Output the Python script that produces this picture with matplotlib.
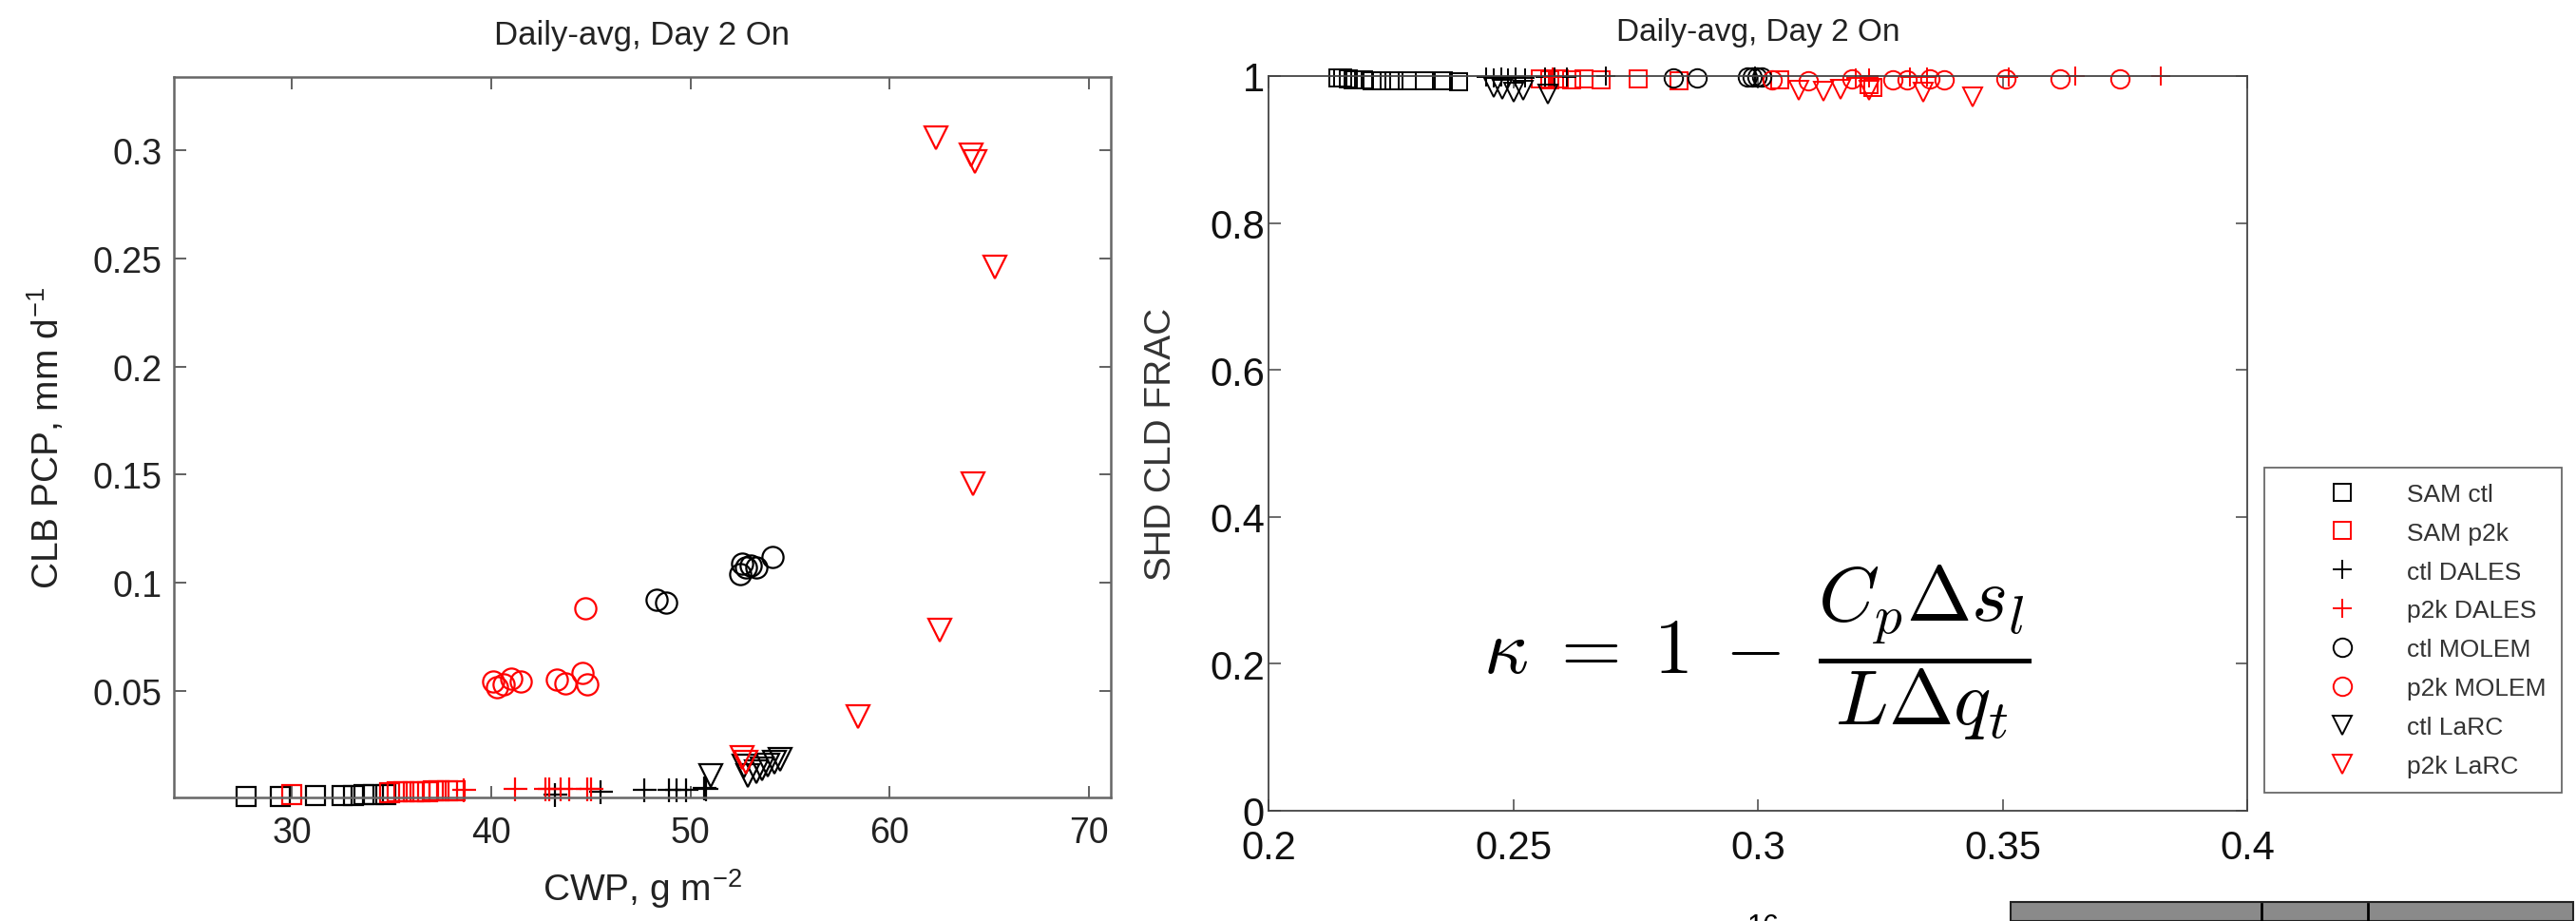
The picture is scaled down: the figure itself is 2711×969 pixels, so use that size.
import matplotlib
matplotlib.use("Agg")
import matplotlib.pyplot as plt
from matplotlib import font_manager
from matplotlib.patches import Rectangle

# ---- data: left panel (CWP vs cloud-base precip) ----
sam_ctl_cwp = [27.7, 29.4, 31.2, 32.5, 33.1, 33.6, 34.1, 34.7]
sam_ctl_pcp = [0.0012, 0.0013, 0.0015, 0.0016, 0.0017, 0.0018, 0.0019, 0.0020]
sam_p2k_cwp = [30.0, 34.9, 35.3, 35.6, 36.1, 36.4, 36.8, 37.1, 37.4, 37.8, 38.2]
sam_p2k_pcp = [0.0020, 0.0030, 0.0032, 0.0033, 0.0034, 0.0035, 0.0035, 0.0036, 0.0036, 0.0037, 0.0037]
dales_ctl_cwp = [43.2, 45.5, 47.7, 48.9, 49.3, 49.8, 50.7, 50.8]
dales_ctl_pcp = [0.0020, 0.0035, 0.0040, 0.0042, 0.0043, 0.0044, 0.0050, 0.0046]
dales_p2k_cwp = [38.6, 41.2, 42.7, 42.9, 43.5, 43.9, 44.8, 45.0]
dales_p2k_pcp = [0.0040, 0.0045, 0.0046, 0.0046, 0.0047, 0.0047, 0.0048, 0.0048]
molem_ctl_cwp = [48.3, 48.8, 52.5, 52.6, 52.8, 53.0, 53.3, 54.1]
molem_ctl_pcp = [0.092, 0.091, 0.104, 0.109, 0.107, 0.108, 0.107, 0.112]
molem_p2k_cwp = [40.1, 40.3, 40.6, 41.0, 41.5, 43.3, 43.7, 44.6, 44.8, 44.7]
molem_p2k_pcp = [0.0544, 0.0516, 0.0530, 0.0557, 0.0544, 0.0552, 0.0535, 0.0584, 0.0530, 0.088]
larc_ctl_cwp = [51.0, 52.7, 52.9, 53.3, 53.6, 53.9, 54.2, 54.5]
larc_ctl_pcp = [0.0110, 0.0150, 0.0110, 0.0125, 0.0140, 0.0155, 0.0170, 0.0185]
larc_p2k_cwp = [52.6, 52.8, 58.4, 62.3, 62.5, 64.1, 64.3, 64.2, 65.3]
larc_p2k_pcp = [0.019, 0.017, 0.038, 0.306, 0.078, 0.298, 0.295, 0.146, 0.246]

# ---- data: right panel (kappa vs shallow cloud fraction) ----
sam_ctl_kap = [0.2142, 0.2152, 0.2163, 0.2173, 0.2194, 0.2212, 0.2231, 0.2256, 0.2284, 0.2319, 0.2358, 0.2389]
sam_ctl_frac = [0.998, 0.997, 0.996, 0.995, 0.995, 0.994, 0.994, 0.994, 0.994, 0.993, 0.993, 0.992]
sam_p2k_kap = [0.2555, 0.2575, 0.2595, 0.2620, 0.2645, 0.2680, 0.2755, 0.2838, 0.3045, 0.3228, 0.3235]
sam_p2k_frac = [0.996, 0.995, 0.996, 0.995, 0.996, 0.995, 0.996, 0.994, 0.995, 0.988, 0.984]
dales_ctl_kap = [0.2445, 0.2460, 0.2475, 0.2490, 0.2505, 0.2525, 0.2565, 0.2585, 0.2610, 0.2690, 0.2995]
dales_ctl_frac = [0.999, 0.998, 0.999, 0.998, 0.999, 0.998, 0.999, 0.999, 0.999, 1.000, 1.000]
dales_p2k_kap = [0.2580, 0.3200, 0.3228, 0.3311, 0.3346, 0.3512, 0.3648, 0.3824]
dales_p2k_frac = [0.999, 0.998, 0.998, 0.999, 0.999, 0.999, 1.000, 1.000]
molem_ctl_kap = [0.2828, 0.2875, 0.2978, 0.2988, 0.2998, 0.3008]
molem_ctl_frac = [0.998, 0.998, 0.999, 0.999, 0.999, 0.999]
molem_p2k_kap = [0.3030, 0.3103, 0.3193, 0.3276, 0.3304, 0.3352, 0.3380, 0.3506, 0.3618, 0.3739]
molem_p2k_frac = [0.995, 0.994, 0.996, 0.995, 0.995, 0.996, 0.995, 0.996, 0.996, 0.996]
larc_ctl_kap = [0.2460, 0.2477, 0.2500, 0.2521, 0.2571]
larc_ctl_frac = [0.985, 0.982, 0.978, 0.980, 0.976]
larc_p2k_kap = [0.3084, 0.3134, 0.3169, 0.3228, 0.3337, 0.3439]
larc_p2k_frac = [0.981, 0.979, 0.982, 0.980, 0.978, 0.972]

labels = ["SAM ctl", "SAM p2k", "ctl DALES", "p2k DALES",
          "ctl MOLEM", "p2k MOLEM", "ctl LaRC", "p2k LaRC"]
markers = ["s", "s", "+", "+", "o", "o", "v", "v"]
colors = ["k", "r", "k", "r", "k", "r", "k", "r"]

left_x = [sam_ctl_cwp, sam_p2k_cwp, dales_ctl_cwp, dales_p2k_cwp,
          molem_ctl_cwp, molem_p2k_cwp, larc_ctl_cwp, larc_p2k_cwp]
left_y = [sam_ctl_pcp, sam_p2k_pcp, dales_ctl_pcp, dales_p2k_pcp,
          molem_ctl_pcp, molem_p2k_pcp, larc_ctl_pcp, larc_p2k_pcp]
right_x = [sam_ctl_kap, sam_p2k_kap, dales_ctl_kap, dales_p2k_kap,
           molem_ctl_kap, molem_p2k_kap, larc_ctl_kap, larc_p2k_kap]
right_y = [sam_ctl_frac, sam_p2k_frac, dales_ctl_frac, dales_p2k_frac,
           molem_ctl_frac, molem_p2k_frac, larc_ctl_frac, larc_p2k_frac]

ms_left = {"s": 15, "o": 16, "v": 17, "+": 18}
ms_right = {"s": 12.5, "o": 14, "v": 15, "+": 15}

# fonts
names = {f.name for f in font_manager.fontManager.ttflist}
SANS = "Liberation Sans"
NARROW = "Liberation Sans Narrow" if "Liberation Sans Narrow" in names else SANS
plt.rcParams["font.family"] = SANS
plt.rcParams["mathtext.fontset"] = "cm"

W, H = 2711, 970
fig = plt.figure(figsize=(W / 100, H / 100), dpi=100)


def box(x0, y0, x1, y1):
    # pixel box (top-left origin) -> figure fraction rect
    return [x0 / W, 1 - y1 / H, (x1 - x0) / W, (y1 - y0) / H]


# ---------------- left panel ----------------
ax1 = fig.add_axes(box(183, 82, 1169, 840))
for xs, ys, m, c in zip(left_x, left_y, markers, colors):
    ax1.plot(xs, ys, linestyle="none", marker=m, mfc="none", mec=c,
             ms=ms_left[m], mew=1.6, clip_on=False)
ax1.set_xlim(24.07, 71.1)
ax1.set_ylim(0.0007, 0.334)
ax1.set_xticks([30, 40, 50, 60, 70])
ax1.set_yticks([0.05, 0.1, 0.15, 0.2, 0.25, 0.3])
ax1.set_yticklabels(["0.05", "0.1", "0.15", "0.2", "0.25", "0.3"])
ax1.tick_params(direction="in", length=9, width=1.3, top=True, right=True,
                labelsize=27, colors="#555555", labelcolor="#222222")
ax1.tick_params(axis="x", pad=14)
ax1.tick_params(axis="y", pad=9)
for s in ax1.spines.values():
    s.set_color("#666666")
    s.set_linewidth(1.8)
ax1.set_title("Daily-avg, Day 2 On", fontsize=25, color="#222222", pad=25)
ax1.set_xlabel(r"CWP, g m$^{\mathregular{-2}}$", fontsize=28, color="#222222", labelpad=12)
ax1.set_ylabel(r"CLB PCP, mm d$^{\mathregular{-1}}$", fontsize=28, color="#222222", labelpad=20)

# ---------------- right panel ----------------
ax2 = fig.add_axes(box(1335, 81, 2365, 854))
handles = []
for xs, ys, m, c in zip(right_x, right_y, markers, colors):
    h, = ax2.plot(xs, ys, linestyle="none", marker=m, mfc="none", mec=c,
                  ms=ms_right[m], mew=1.4, clip_on=False)
    handles.append(h)
ax2.set_xlim(0.2, 0.4)
ax2.set_ylim(0, 1)
ax2.set_xticks([0.2, 0.25, 0.3, 0.35, 0.4])
ax2.set_xticklabels(["0.2", "0.25", "0.3", "0.35", "0.4"])
ax2.set_yticks([0, 0.2, 0.4, 0.6, 0.8, 1])
ax2.set_yticklabels(["0", "0.2", "0.4", "0.6", "0.8", "1"])
ax2.tick_params(direction="in", length=9, width=1.1, top=True, right=True,
                labelsize=30, colors="#444444", labelcolor="#111111")
ax2.tick_params(axis="x", pad=14)
ax2.tick_params(axis="y", pad=3)
for t in ax2.get_xticklabels() + ax2.get_yticklabels():
    t.set_family(NARROW)
for s in ax2.spines.values():
    s.set_color("#444444")
    s.set_linewidth(1.3)
ax2.set_title("Daily-avg, Day 2 On", fontsize=24, color="#222222", pad=27)
ax2.set_ylabel("SHD CLD FRAC", fontsize=28, color="#333333", labelpad=24)

ax2.text(0.499, 0.216,
         r"$\kappa \;=\; 1 \;-\; \dfrac{C_p \Delta s_l}{L \Delta q_t}$",
         transform=ax2.transAxes, ha="center", va="center", fontsize=59)

# legend box to the right
leg = fig.legend(handles, labels, loc="upper left",
                 bbox_to_anchor=(2383 / W, 1 - 493 / H),
                 frameon=True, fancybox=False, edgecolor="#444444",
                 prop={"family": NARROW, "size": 19}, labelspacing=0.64,
                 handletextpad=0.1, borderpad=0.6, handlelength=5.0,
                 borderaxespad=0)
leg.get_frame().set_linewidth(1.3)
for t in leg.get_texts():
    t.set_color("#333333")

# cut-off pieces of the next figure at the bottom edge
fig.patches.append(Rectangle((2116 / W, 0), (2708 - 2116) / W, (H - 950) / H,
                             transform=fig.transFigure, facecolor="#8a8a8a",
                             edgecolor="#222222", linewidth=1.5))
for px in [2380, 2492]:
    fig.add_artist(plt.Line2D([px / W, px / W], [0, (H - 952) / H],
                              transform=fig.transFigure, color="k", lw=2))
fig.text(1856 / W, 1 - 961 / H, "16", ha="center", va="top", fontsize=22)

fig.savefig("out.png", dpi=100)
